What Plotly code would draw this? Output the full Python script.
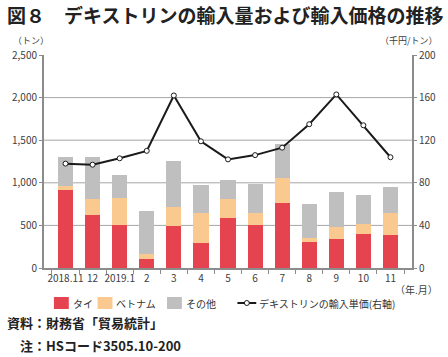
import plotly.graph_objects as go

months = ["2018.11", "12", "2019.1", "2", "3", "4", "5", "6", "7", "8", "9", "10", "11"]
thai = [910, 620, 505, 105, 490, 295, 585, 505, 765, 305, 345, 400, 385]
vietnam = [50, 190, 320, 65, 230, 355, 220, 145, 295, 45, 135, 115, 260]
others = [340, 495, 270, 500, 535, 325, 230, 340, 395, 400, 410, 340, 300]
price = [98, 97, 103, 110, 162, 119, 102, 106, 113, 135, 163, 134, 104]

left_ticks = [0, 500, 1000, 1500, 2000, 2500]
right_ticks = [0, 40, 80, 120, 160, 200]

FONT = "Noto Sans CJK JP"
RED = "#E5434F"
ORANGE = "#F9C990"
GRAY = "#BFBFBF"
LINE = "#1a1a1a"

W, H = 448, 357
L, R, T, B = 43, 34, 55, 89
PW, PH = W - L - R, H - T - B


def px(x):
    return (x - L) / PW


def py(y):
    return (H - B - y) / PH


fig = go.Figure()
fig.add_bar(x=months, y=thai, name="タイ", marker_color=RED, marker_line_width=0)
fig.add_bar(x=months, y=vietnam, name="ベトナム", marker_color=ORANGE, marker_line_width=0)
fig.add_bar(x=months, y=others, name="その他", marker_color=GRAY, marker_line_width=0)
fig.add_scatter(x=months, y=price, name="デキストリンの輸入単価(右軸)", yaxis="y2",
                mode="lines+markers",
                line=dict(color=LINE, width=2),
                marker=dict(symbol="circle", size=5, color="white",
                            line=dict(color=LINE, width=1)))

shapes = []
for v in left_ticks[1:-1]:
    shapes.append(dict(type="line", xref="paper", x0=0, x1=1, yref="y", y0=v, y1=v,
                       line=dict(color="#A6A6A6", width=1), layer="below"))

# legend (drawn manually)
legend_items = [(53, RED, "タイ"), (97, ORANGE, "ベトナム"), (167, GRAY, "その他")]
annotations = []
for x0, col, name in legend_items:
    shapes.append(dict(type="rect", xref="paper", yref="paper",
                       x0=px(x0), x1=px(x0 + 15), y0=py(309), y1=py(297),
                       fillcolor=col, line=dict(width=0)))
    annotations.append(dict(text=name, xref="paper", yref="paper", x=px(x0 + 17), y=py(303),
                            xanchor="left", yanchor="middle", showarrow=False,
                            font=dict(size=10, color="#333333")))
shapes.append(dict(type="line", xref="paper", yref="paper", x0=px(238), x1=px(257),
                   y0=py(303), y1=py(303), line=dict(color=LINE, width=2)))
shapes.append(dict(type="circle", xref="paper", yref="paper", x0=px(245), x1=px(250),
                   y0=py(305.5), y1=py(300.5), fillcolor="white", line=dict(color=LINE, width=1)))
annotations.append(dict(text="デキストリンの輸入単価(右軸)", xref="paper", yref="paper",
                        x=px(258), y=py(303), xanchor="left", yanchor="middle", showarrow=False,
                        font=dict(size=10, color="#333333")))

annotations += [
    dict(text="<b>図８　デキストリンの輸入量および輸入価格の推移</b>", xref="paper", yref="paper",
         x=px(4), y=py(15), xanchor="left", yanchor="middle", showarrow=False,
         font=dict(size=19, color="#222222", family=FONT)),
    dict(text="（トン）", xref="paper", yref="paper", x=px(10), y=py(40),
         xanchor="left", yanchor="middle", showarrow=False, font=dict(size=9)),
    dict(text="（千円/トン）", xref="paper", yref="paper", x=px(442), y=py(40),
         xanchor="right", yanchor="middle", showarrow=False, font=dict(size=9)),
    dict(text="（年.月）", xref="paper", yref="paper", x=px(442), y=py(289),
         xanchor="right", yanchor="middle", showarrow=False, font=dict(size=10)),
    dict(text="<b>資料：財務省「貿易統計」</b>", xref="paper", yref="paper", x=px(4), y=py(322),
         xanchor="left", yanchor="middle", showarrow=False,
         font=dict(size=13, color="#222222")),
    dict(text="<b>注：HSコード3505.10-200</b>", xref="paper", yref="paper", x=px(17), y=py(345),
         xanchor="left", yanchor="middle", showarrow=False,
         font=dict(size=13, color="#222222")),
]

fig.update_layout(
    width=W, height=H,
    margin=dict(l=L, r=R, t=T, b=B),
    barmode="stack", bargap=0.44,
    plot_bgcolor="white", paper_bgcolor="white",
    font=dict(family=FONT, size=10, color="#404040"),
    showlegend=False,
    xaxis=dict(type="category", showline=True, linecolor="#8c8c8c", linewidth=2,
               ticks="outside", tickson="boundaries", ticklen=4, tickcolor="#8c8c8c",
               tickangle=0, tickfont=dict(size=10, color="#404040"), showgrid=False),
    yaxis=dict(range=[0, 2500], tickvals=left_ticks, tickformat=",", showgrid=False,
               showline=True, linecolor="#8c8c8c", linewidth=2, ticks="outside",
               ticklen=3, tickcolor="#8c8c8c", zeroline=False,
               tickfont=dict(size=10, color="#404040")),
    yaxis2=dict(range=[0, 200], tickvals=right_ticks, overlaying="y", side="right",
                showgrid=False, showline=True, linecolor="#8c8c8c", linewidth=2,
                ticks="outside", ticklen=3, tickcolor="#8c8c8c", zeroline=False,
                tickfont=dict(size=10, color="#404040")),
    shapes=shapes,
    annotations=annotations,
)

fig.write_html("out.html", config={"displayModeBar": False},
               post_script="document.body.style.margin='0';document.body.style.overflow='hidden';")
